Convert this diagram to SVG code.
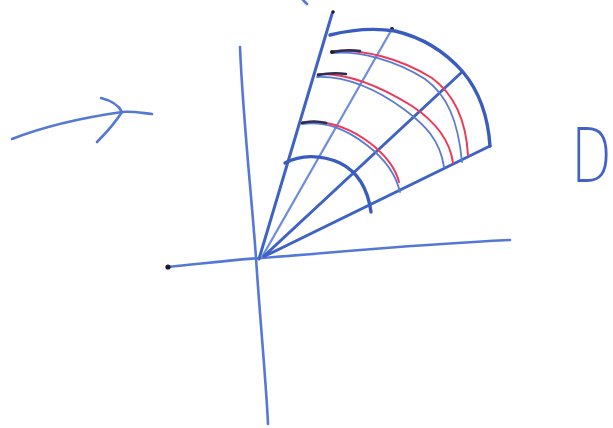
<svg xmlns="http://www.w3.org/2000/svg" width="613" height="428" viewBox="0 0 613 428">
<style>
.ax{fill:none;stroke:#5577d6;stroke-width:2.6;stroke-linecap:round;stroke-linejoin:round}
.ray{fill:none;stroke:#3f63c4;stroke-width:3;stroke-linecap:round}
.ray2{fill:none;stroke:#6d8ce0;stroke-width:2.2;stroke-linecap:round}
.arc{fill:none;stroke:#3a5cbf;stroke-width:3.4;stroke-linecap:round}
.arcb{fill:none;stroke:#5a7ad4;stroke-width:1.8;stroke-linecap:round}
.red{fill:none;stroke:#ec3a5a;stroke-width:2;stroke-linecap:round}
.blk{fill:none;stroke:#2a2f55;stroke-width:2.6;stroke-linecap:round}
.dot{fill:#1a1a2a}
</style>
<rect width="613" height="428" fill="#ffffff"/>
<g id="arrow">
<path class="ax" d="M12,139 C40,128 80,118 122,112 C132,111 142,113 152,114"/>
<path class="ax" d="M101,98 Q117,102 122,112 Q113,126 97,142"/>
</g>
<g id="axes">
<path class="ax" d="M240,47 C243,120 252,200 256,258 C260,320 266,380 268,424"/>
<path class="ax" d="M168,267 C200,264 230,260 262,258 C340,252 420,244 510,240"/>
<circle class="dot" cx="168" cy="267" r="2.6"/>
<path class="ax" d="M303,0 L307,4" stroke-width="1.5"/>
</g>
<g id="rays">
<path class="ray" d="M259,259 L332,14"/>
<path class="ray2" d="M262,257 L392,29"/>
<path class="ray" d="M264,256 L462,72"/>
<path class="ray" d="M265,256 L490,146"/>
<circle class="dot" cx="333" cy="12" r="1.8"/>
<circle class="dot" cx="392" cy="29" r="2"/>
</g>
<g id="arcs">
<path class="arc" d="M330,35 C350,30 375,28 395,31 C425,38 448,55 463,72 C478,90 488,115 490,146"/>
<path class="arc" d="M285,163 C300,155 320,154 340,163 C358,172 368,190 371,212"/>
<path class="arcb" d="M302,124 C325,121 345,128 368,146 C386,160 396,175 400,192"/>
<path class="red" d="M303,122 C326,120 348,126 370,143 C388,157 396,170 399,182"/>
<path class="blk" d="M302,123 C310,121 318,121 326,123"/>
<path class="arcb" d="M317,77 C345,76 375,88 405,110 C425,125 440,140 444,167"/>
<path class="red" d="M318,74 C348,73 380,86 412,106 C436,122 450,140 453,163"/>
<path class="blk" d="M318,75 C328,73 338,73 346,74"/>
<path class="arcb" d="M333,53 C360,51 395,60 425,79 C447,95 458,120 462,162"/>
<path class="red" d="M334,51 C362,49 400,58 432,78 C455,95 466,120 468,155"/>
<path class="blk" d="M333,52 C342,50 352,50 360,51"/>
<circle class="dot" cx="332" cy="52" r="2"/>
</g>
<g id="label">
<text x="571" y="182" font-family="DejaVu Sans, sans-serif" font-weight="200" font-size="74" fill="#4163c8" transform="translate(571 0) scale(0.72 1) translate(-571 0)">D</text>
</g>
</svg>
